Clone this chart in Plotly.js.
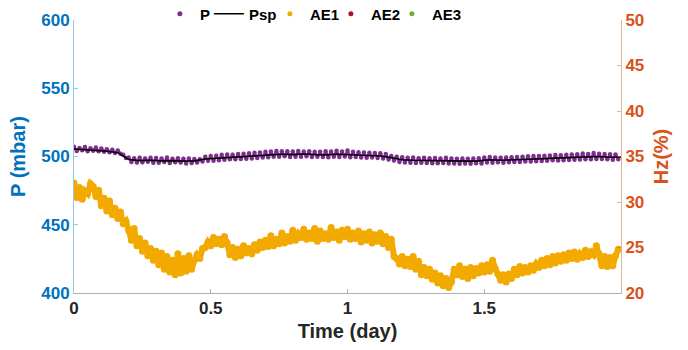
<!DOCTYPE html>
<html>
<head>
<meta charset="utf-8">
<script src="https://cdn.plot.ly/plotly-3.0.1.min.js"></script>
<style>html,body{margin:0;padding:0;background:#fff;}#chart{width:688px;height:350px;}</style>
</head>
<body>
<div id="chart"></div>
<script>
// Sampling grid (days)
const T0 = 0;
const DT_FAST = 0.01;   // P and AE1 samples
const DT_SP = 0.04;     // Psp samples

// Pressure P (mbar), left axis
const P = [
507.2,504.1,506.3,504.6,507.0,503.9,506.1,504.3,506.6,503.8,
505.9,503.5,505.4,503.2,504.9,502.6,504.4,502.1,501.2,498.9,
499.2,496.0,498.8,495.6,499.1,495.8,498.6,496.1,499.0,495.5,
498.9,495.4,498.5,495.9,499.2,495.2,498.4,495.8,498.7,495.6,
498.3,494.9,498.6,495.3,498.2,495.6,497.9,496.4,499.8,496.9,
500.4,496.8,500.6,497.2,501.2,497.6,501.5,497.9,501.3,498.0,
501.8,498.1,502.0,498.3,502.4,498.6,502.7,498.9,503.0,499.2,
503.4,499.5,503.6,499.8,504.1,499.9,503.8,500.2,503.9,499.7,
503.6,499.8,504.0,499.9,503.7,500.1,503.9,499.6,503.5,499.8,
503.4,499.7,503.8,499.5,503.6,499.9,504.2,499.6,503.7,500.0,
504.4,499.5,503.5,499.6,503.1,499.3,502.9,499.0,502.8,499.2,
502.6,498.9,502.3,498.6,501.9,497.8,500.4,497.1,499.8,495.9,
499.4,495.6,499.0,495.4,499.3,495.3,498.8,495.5,499.1,495.2,
498.7,495.1,498.9,495.0,498.6,495.3,499.0,494.9,498.5,494.8,
498.4,494.7,498.6,494.9,498.3,494.6,498.5,495.0,498.7,494.9,
499.3,495.6,499.6,495.4,499.2,495.7,499.0,495.5,499.3,495.8,
499.4,495.9,499.7,496.0,499.8,496.3,500.1,496.4,500.3,496.6,
500.4,496.7,500.6,496.9,500.8,497.2,501.1,497.0,501.0,497.3,
501.3,497.5,501.5,497.6,501.7,497.8,502.2,497.9,501.9,498.0,
502.6,498.2,502.0,498.1,501.8,497.9,501.7,497.6,501.5,498.0
];

// Set point Psp (mbar), left axis
const Psp = [
505.5,505.0,504.8,503.8,502.8,497.8,497.0,497.2,496.8,497.0,
496.6,496.8,498.2,498.6,499.4,499.6,500.0,500.6,501.2,501.6,
501.4,501.8,501.4,501.2,501.6,501.4,501.0,500.8,500.4,499.2,
497.6,497.2,497.0,496.8,497.0,496.4,496.6,496.8,497.6,497.2,
497.4,497.8,498.2,498.4,498.8,499.2,499.4,499.8,500.0,499.4,
499.6
];

// AE1 (Hz %), right axis
const AE1 = [
32.1,30.5,31.6,30.3,31.2,30.9,32.0,31.7,30.6,31.3,
29.6,30.4,29.0,30.1,28.6,29.3,28.2,28.9,27.6,27.9,
26.9,25.8,27.1,25.2,26.0,24.6,25.5,24.1,24.9,23.6,
24.6,23.1,24.4,22.6,24.0,22.3,23.6,22.0,24.3,22.2,
23.8,22.4,24.1,22.6,23.6,24.2,23.8,24.9,25.0,25.6,
25.2,26.1,25.4,25.9,25.3,26.2,25.5,24.2,25.0,23.9,
24.8,24.1,25.2,24.4,24.9,24.3,25.3,24.7,25.6,25.0,
25.8,25.1,26.3,25.2,25.9,25.4,26.6,25.5,26.2,25.7,
26.9,25.8,26.5,26.1,27.0,25.9,26.6,26.0,27.1,25.7,
26.8,26.0,26.5,25.9,27.2,26.1,26.7,25.8,26.9,26.2,
27.0,25.9,26.6,26.0,26.8,25.6,26.5,25.8,26.7,25.5,
26.4,25.7,26.6,25.4,26.2,25.0,25.9,24.0,23.8,23.2,
24.0,23.0,23.7,22.9,24.0,22.6,23.5,22.0,22.8,21.9,
22.6,21.5,22.2,21.1,21.9,20.8,21.6,20.6,21.2,22.6,
22.0,23.0,21.8,22.6,21.6,22.8,21.9,22.7,22.2,23.0,
22.3,23.1,22.4,23.6,22.7,22.1,21.4,22.0,21.2,22.1,
21.6,22.6,22.0,22.9,22.2,22.8,22.3,23.0,22.5,23.2,
22.8,23.6,23.0,23.8,23.1,24.0,23.3,24.1,23.5,24.2,
23.6,24.4,23.8,24.5,23.7,24.3,23.9,24.7,24.0,24.5,
24.2,25.2,24.3,23.0,24.0,22.9,23.9,23.0,24.1,24.8
];

// AE2, AE3: in the legend, but no samples visible in the plotted window
const AE2 = [null];
const AE3 = [null];

const xTicks = [0, 0.5, 1, 1.5];
const xTickText = ['0', '0.5', '1', '1.5'];
const yLeftTicks = [400, 450, 500, 550, 600];
const yRightTicks = [20, 25, 30, 35, 40, 45, 50];

const C_P = '#7E2F8E', C_AE1 = '#F2AA00', C_AE2 = '#A2142F', C_AE3 = '#77AC30';
const C_BLUE = '#0072BD', C_ORANGE = '#D95319';
const FONT = 'Liberation Sans, Arial, sans-serif';

const traces = [
  {x0: T0, dx: DT_FAST, y: P, type: 'scatter', mode: 'lines+markers',
   line: {color: C_P, width: 2.5}, marker: {color: C_P, size: 4.5},
   showlegend: false, hoverinfo: 'skip', legendgroup: 'P'},
  {x0: T0, dx: DT_SP, y: Psp, type: 'scatter', mode: 'lines', name: 'Psp',
   line: {color: '#000000', width: 1.6}, legendrank: 2, legendwidth: 16},
  {x0: T0, dx: DT_FAST, y: AE1, type: 'scatter', mode: 'lines+markers', yaxis: 'y2',
   line: {color: C_AE1, width: 6}, marker: {color: C_AE1, size: 7},
   showlegend: false, hoverinfo: 'skip', legendgroup: 'AE1'},
  // legend entries (dot symbols as in the reference)
  {x0: T0, dx: DT_FAST, y: [null], type: 'scatter', mode: 'markers', name: 'P', marker: {color: C_P, size: 5}, legendrank: 1, legendgroup: 'P', legendwidth: 4},
  {x0: T0, dx: DT_FAST, y: [null], type: 'scatter', mode: 'markers', name: 'AE1', marker: {color: C_AE1, size: 5}, legendrank: 3, legendgroup: 'AE1', yaxis: 'y2', legendwidth: 16},
  {x0: T0, dx: DT_FAST, y: AE2, type: 'scatter', mode: 'markers', name: 'AE2', marker: {color: C_AE2, size: 5}, legendrank: 4, yaxis: 'y2', legendwidth: 16},
  {x0: T0, dx: DT_FAST, y: AE3, type: 'scatter', mode: 'markers', name: 'AE3', marker: {color: C_AE3, size: 5}, legendrank: 5, yaxis: 'y2', legendwidth: 32}
];

const layout = {
  width: 688, height: 350,
  margin: {l: 74, r: 67, t: 20, b: 57, autoexpand: false},
  paper_bgcolor: '#ffffff', plot_bgcolor: '#ffffff',
  font: {family: FONT, size: 17, color: '#262626'},
  showlegend: true,
  legend: {orientation: 'h', x: 0.157, xanchor: 'left', y: 1.022, yanchor: 'middle',
           font: {family: FONT, size: 15, color: '#000000', weight: 'bold'},
           bgcolor: 'rgba(255,255,255,0)', itemwidth: 30, tracegroupgap: 0, entrywidthmode: 'pixels'},
  xaxis: {range: [0, 2], tickvals: xTicks, ticktext: xTickText, showgrid: false, zeroline: false,
          showline: true, linecolor: '#b0b0b0', linewidth: 1, ticks: 'inside', ticklen: 4, tickcolor: '#b0b0b0',
          tickfont: {family: FONT, size: 17, color: '#262626', weight: 'bold'},
          title: {text: 'Time (day)', font: {family: FONT, size: 20, color: '#262626', weight: 'bold'}, standoff: 6}},
  yaxis: {range: [400, 600], tickvals: yLeftTicks, showgrid: false, zeroline: false,
          showline: true, linecolor: 'rgba(0,114,189,0.4)', linewidth: 1, ticks: 'inside', ticklen: 4,
          tickcolor: 'rgba(0,114,189,0.4)',
          tickfont: {family: FONT, size: 17, color: C_BLUE, weight: 'bold'},
          title: {text: 'P (mbar)', font: {family: FONT, size: 20, color: C_BLUE, weight: 'bold'}, standoff: 10}},
  yaxis2: {range: [20, 50], tickvals: yRightTicks, overlaying: 'y', side: 'right', showgrid: false, zeroline: false,
           showline: true, linecolor: 'rgba(217,83,25,0.45)', linewidth: 1, ticks: 'inside', ticklen: 4,
           tickcolor: 'rgba(217,83,25,0.45)',
           tickfont: {family: FONT, size: 17, color: C_ORANGE, weight: 'bold'},
           title: {text: 'Hz(%)', font: {family: FONT, size: 20, color: C_ORANGE, weight: 'bold'}, standoff: 10}}
};

Plotly.newPlot('chart', traces, layout, {displayModeBar: false, staticPlot: true});
</script>
</body>
</html>
